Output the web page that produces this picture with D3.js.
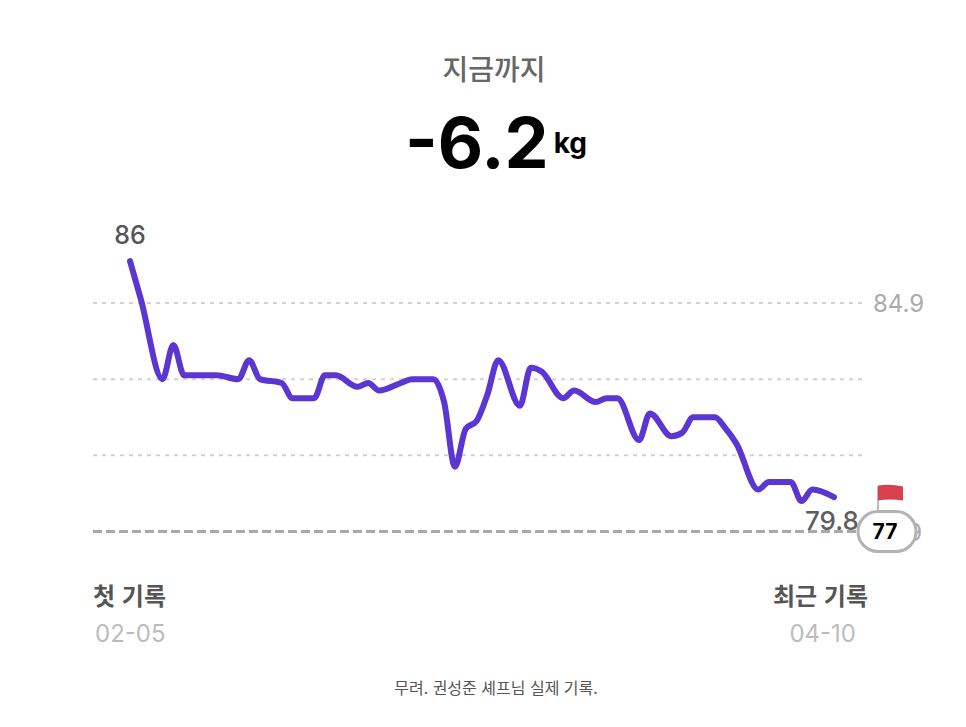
<!DOCTYPE html>
<html lang="ko">
  <head>
    <meta charset="utf-8" />
    <title>weight record</title>
    <script type="text/javascript" src="https://d3js.org/d3.v7.min.js"></script>
    <style>
      body { margin: 0; background: #fff; }
      text { font-family: "Inter", "Noto Sans CJK KR", sans-serif; }
      .ko { font-family: "Noto Sans CJK KR", sans-serif; }
    </style>
  </head>
  <body>
    <div id="chart"></div>

    <script type="text/javascript">
      /********************************
       * data
       ********************************/

      const recordDates = [
        "2024-02-05", "2024-02-06", "2024-02-08", "2024-02-09", "2024-02-10",
        "2024-02-13", "2024-02-15", "2024-02-16", "2024-02-17", "2024-02-19",
        "2024-02-20", "2024-02-22", "2024-02-23", "2024-02-24", "2024-02-26",
        "2024-02-27", "2024-02-28", "2024-03-01", "2024-03-02", "2024-03-04",
        "2024-03-05", "2024-03-06", "2024-03-07", "2024-03-08", "2024-03-09",
        "2024-03-10", "2024-03-12", "2024-03-13", "2024-03-14", "2024-03-16",
        "2024-03-17", "2024-03-19", "2024-03-20", "2024-03-21", "2024-03-23",
        "2024-03-24", "2024-03-26", "2024-03-27", "2024-03-28", "2024-03-30",
        "2024-03-31", "2024-04-01", "2024-04-03", "2024-04-04", "2024-04-06",
        "2024-04-07", "2024-04-08", "2024-04-10",
      ];

      const weights = [
        86.0, 85.0, 82.9, 83.8, 83.0,
        83.0, 82.9, 83.4, 82.9, 82.8,
        82.4, 82.4, 83.0, 83.0, 82.7,
        82.8, 82.6, 82.8, 82.9, 82.9,
        82.3, 80.6, 81.6, 81.8, 82.5,
        83.4, 82.2, 83.2, 83.1, 82.4,
        82.6, 82.3, 82.4, 82.4, 81.3,
        82.0, 81.4, 81.5, 81.9, 81.9,
        81.6, 81.2, 80.0, 80.2, 80.2,
        79.7, 80.0, 79.8,
      ];

      const gridValues = [84.9, 82.9, 80.9, 78.9];
      const gridLabels = ["84.9", "78.9"];
      const goalWeight = 77;
      const totalChange = "-6.2";
      const unit = "kg";
      const title = "지금까지";
      const startLabel = "첫 기록";
      const endLabel = "최근 기록";
      const caption = "무려. 권성준 셰프님 실제 기록.";

      const parseDate = d3.timeParse("%Y-%m-%d");
      const fmtDay = d3.timeFormat("%m-%d");
      const records = recordDates.map((d, i) => ({ date: parseDate(d), w: weights[i] }));

      /***************************
       * svg + scales
       **************************/

      const width = 966;
      const height = 727;

      const svg = d3
        .select("div#chart")
        .append("svg")
        .attr("width", width)
        .attr("height", height)
        .style("background-color", "#fff");

      const x = d3
        .scaleTime()
        .domain(d3.extent(records, (d) => d.date))
        .range([130, 834]);

      const y = d3
        .scaleLinear()
        .domain([d3.min(gridValues), d3.max(gridValues)])
        .range([531.5, 303]);

      const gridLeft = 93;
      const gridRight = 866;

      /***************************
       * header
       **************************/

      svg.append("text")
        .attr("class", "ko")
        .attr("x", 494)
        .attr("y", 80)
        .attr("text-anchor", "middle")
        .attr("font-size", 28)
        .attr("font-weight", 500)
        .attr("fill", "#676767")
        .text(title);

      const big = svg.append("text")
        .attr("x", 496)
        .attr("y", 168)
        .attr("text-anchor", "middle")
        .attr("font-weight", 700)
        .attr("fill", "#000");
      big.append("tspan").attr("font-size", 70).text(totalChange);
      big.append("tspan")
        .attr("font-size", 28)
        .attr("dx", 5)
        .attr("dy", -15)
        .text(unit);

      /***************************
       * grid
       **************************/

      svg.selectAll("line.grid")
        .data(gridValues.slice(0, -1))
        .enter()
        .append("line")
        .attr("class", "grid")
        .attr("x1", gridLeft)
        .attr("x2", gridRight)
        .attr("y1", (d) => y(d))
        .attr("y2", (d) => y(d))
        .attr("stroke", "#d2d2d2")
        .attr("stroke-width", 2)
        .attr("stroke-dasharray", "4 5");

      svg.selectAll("text.gridlabel")
        .data(gridLabels)
        .enter()
        .append("text")
        .attr("class", "gridlabel")
        .attr("x", 873)
        .attr("y", (d) => y(+d) + 9)
        .attr("font-size", 24)
        .attr("fill", "#ababab")
        .text((d) => d);

      // goal line, drawn at the floor of the chart when goal is below the domain
      const goalY = y(Math.max(goalWeight, y.domain()[0]));

      svg.append("line")
        .attr("x1", gridLeft)
        .attr("x2", 858)
        .attr("y1", goalY)
        .attr("y2", goalY)
        .attr("stroke", "#a9a9a9")
        .attr("stroke-width", 3)
        .attr("stroke-dasharray", "9 4");

      /***************************
       * line
       **************************/

      const line = d3
        .line()
        .x((d) => x(d.date))
        .y((d) => y(d.w))
        .curve(d3.curveMonotoneX);

      svg.append("path")
        .datum(records)
        .attr("d", line)
        .attr("fill", "none")
        .attr("stroke", "#5b36d2")
        .attr("stroke-width", 6)
        .attr("stroke-linecap", "round")
        .attr("stroke-linejoin", "round");

      const first = records[0];
      const last = records[records.length - 1];

      svg.append("text")
        .attr("x", x(first.date))
        .attr("y", y(first.w) - 17)
        .attr("text-anchor", "middle")
        .attr("font-size", 25)
        .attr("font-weight", 500)
        .attr("fill", "#555")
        .text(d3.format(".0f")(first.w));

      svg.append("text")
        .attr("x", 805)
        .attr("y", y(last.w) + 33)
        .attr("font-size", 26)
        .attr("font-weight", 500)
        .attr("fill", "#5e5e5e")
        .text(d3.format(".1f")(last.w));

      /***************************
       * goal badge + flag
       **************************/

      const badge = svg.append("g").attr("transform", `translate(887,${goalY})`);

      badge.append("line")
        .attr("x1", -9)
        .attr("x2", -9)
        .attr("y1", -45)
        .attr("y2", -21)
        .attr("stroke", "#bdbdbd")
        .attr("stroke-width", 2);

      badge.append("path")
        .attr("d", "M-9,-46 Q3,-48 16,-45 L16,-31 Q3,-33 -9,-31 Z")
        .attr("fill", "#d8404f");

      badge.append("rect")
        .attr("x", -29)
        .attr("y", -20)
        .attr("width", 58)
        .attr("height", 40)
        .attr("rx", 20)
        .attr("fill", "#fff")
        .attr("stroke", "#b3b3b3")
        .attr("stroke-width", 3);

      badge.append("text")
        .attr("x", -2)
        .attr("y", 7.5)
        .attr("text-anchor", "middle")
        .attr("font-size", 21)
        .attr("font-weight", 700)
        .attr("fill", "#000")
        .text(goalWeight);

      /***************************
       * footer labels
       **************************/

      svg.append("text")
        .attr("class", "ko")
        .attr("x", gridLeft)
        .attr("y", 605)
        .attr("font-size", 24)
        .attr("font-weight", 700)
        .attr("fill", "#555")
        .text(startLabel);

      svg.append("text")
        .attr("x", 95)
        .attr("y", 642)
        .attr("font-size", 24)
        .attr("fill", "#bcbcbc")
        .text(fmtDay(first.date));

      svg.append("text")
        .attr("class", "ko")
        .attr("x", 868)
        .attr("y", 605)
        .attr("text-anchor", "end")
        .attr("font-size", 24)
        .attr("font-weight", 700)
        .attr("fill", "#555")
        .text(endLabel);

      svg.append("text")
        .attr("x", 856)
        .attr("y", 642)
        .attr("text-anchor", "end")
        .attr("font-size", 24)
        .attr("fill", "#bcbcbc")
        .text(fmtDay(last.date));

      svg.append("text")
        .attr("class", "ko")
        .attr("x", 496)
        .attr("y", 694)
        .attr("text-anchor", "middle")
        .attr("font-size", 16)
        .attr("fill", "#555")
        .text(caption);
    </script>
  </body>
</html>
